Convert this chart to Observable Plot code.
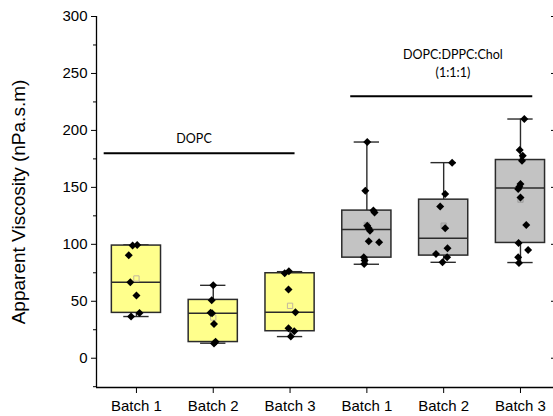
<!DOCTYPE html>
<html>
<head>
<meta charset="utf-8">
<script src="https://cdn.jsdelivr.net/npm/d3@7"></script>
<script src="https://cdn.jsdelivr.net/npm/@observablehq/plot@0.6"></script>
<style>
  html, body { margin: 0; padding: 0; background: #fff; }
  #chart svg { display: block; font-family: 'Liberation Sans', Arial, sans-serif; }
  #chart svg g[aria-label="x-axis tick label"],
  #chart svg g[aria-label="y-axis tick label"] { font-size: 15px; }
  #chart svg g.ytitle { font-size: 19px; }
  #chart svg g.grouplabel { font-size: 12.5px; font-family: Lato, 'Open Sans', sans-serif; }
</style>
</head>
<body>
<div id="chart"></div>
<script>
// ---- data ----
const categories = ["Batch 1", "Batch 2", "Batch 3", "Batch 1", "Batch 2", "Batch 3"];
const groupNames = ["DOPC", "DOPC:DPPC:Chol\n(1:1:1)"];
const groupLevels = [180, 230];
const groupOf = [0, 0, 0, 1, 1, 1];

const q1Values     = [39.8, 14.2, 23.7, 88.3, 90.1, 101.2];
const medianValues = [66.7, 39.5, 40.4, 112.9, 105.3, 149.5];
const q3Values     = [98.9, 51.2, 74.6, 129.6, 139.2, 174.0];
const minValues    = [36.6, 13.2, 19.0, 82.5, 84.2, 84.0];
const maxValues    = [99.5, 64.0, 76.0, 189.8, 171.7, 210.0];
const meanValues   = [70.0, 35.7, 46.0, 117.0, 116.4, 139.2];

const pointValues = [
  [99.5, 98.9, 90.4, 66.7, 55.0, 39.8, 36.6],
  [64.0, 51.0, 40.0, 39.5, 30.0, 14.4, 13.0],
  [76.3, 74.6, 60.3, 40.4, 26.3, 23.7, 19.0],
  [189.8, 147.1, 129.6, 128.0, 116.4, 114.0, 112.0, 102.6, 101.8, 88.6, 85.7, 82.8],
  [171.7, 144.2, 133.3, 114.0, 96.5, 91.6, 88.6, 84.2],
  [210.0, 182.8, 177.8, 173.4, 153.0, 150.6, 148.6, 141.2, 117.0, 101.2, 95.1, 88.6, 83.7]
];
// horizontal jitter of each point, in category units
const pointJitter = [
  [0.01, -0.05, -0.10, -0.08, 0.00, 0.04, -0.07],
  [0.00, -0.02, -0.035, -0.015, 0.01, 0.03, 0.01],
  [-0.015, -0.07, -0.02, 0.07, -0.02, 0.055, 0.01],
  [0.005, -0.02, 0.085, 0.10, 0.005, 0.025, 0.04, 0.025, 0.16, -0.04, -0.03, -0.035],
  [0.11, 0.02, -0.045, 0.02, 0.05, -0.10, 0.045, -0.015],
  [0.05, -0.01, 0.03, 0.02, 0.00, -0.015, -0.03, 0.00, 0.075, -0.025, 0.10, -0.03, -0.02]
];

const yMajorTicks = [0, 50, 100, 150, 200, 250, 300];
const yMinorTicks = [-25, 25, 75, 125, 175, 225, 275];

// ---- tables built from the arrays ----
const boxes = categories.map((c, i) => ({
  i, cat: c, group: groupOf[i],
  q1: q1Values[i], median: medianValues[i], q3: q3Values[i],
  min: minValues[i], max: maxValues[i], mean: meanValues[i]
}));
const points = pointValues.flatMap((vals, i) =>
  vals.map((v, k) => ({ i, x: i + pointJitter[i][k], v })));
const groupLines = [
  { name: groupNames[0], y: groupLevels[0], x1: -0.42, x2: 2.065, tx: 0.75, ty: 194 },
  { name: groupNames[1], y: groupLevels[1], x1: 2.79, x2: 5.16, tx: 4.12, ty: 260 }
];

const X0 = -0.52, X1 = 5.43, Y0 = -25.7, Y1 = 300;
const boxHalf = 0.32, capHalf = 0.165;
const fillFor = d => d.group === 0 ? "#ffff8c" : "#c3c3c3";
const meanFill = d => d.group === 0 ? "none" : "#b4b4b4";
const meanStroke = d => d.group === 0 ? "#c2b79f" : "#a0a0a0";
const dark = "#2b2b2b";

const chart = Plot.plot({
  width: 553,
  height: 416,
  marginLeft: 96,
  marginRight: 0,
  marginTop: 16,
  marginBottom: 29,
  style: { background: "#fff", color: "#000" },
  x: { domain: [X0, X1], axis: null },
  y: { domain: [Y0, Y1], axis: null },
  marks: [
    // axes
    Plot.axisY(yMinorTicks, { anchor: "left", tickSize: 3, text: null, stroke: "#000" }),
    Plot.axisY(yMajorTicks, { anchor: "left", tickSize: 5, tickPadding: 4, stroke: "#000", fill: "#000", label: null }),
    Plot.axisY(yMajorTicks, { anchor: "right", tickSize: 3, dx: -3, text: null, stroke: "#000", label: null }),
    Plot.axisX([0, 1, 2, 3, 4, 5], { anchor: "bottom", tickSize: 6, tickPadding: 7,
      tickFormat: i => categories[i], stroke: "#000", fill: "#000", label: null }),
    Plot.ruleX([X0], { y1: Y0, y2: Y1, stroke: "#000", strokeWidth: 1.3 }),
    Plot.ruleY([Y0], { x1: X0, x2: X1, stroke: "#000", strokeWidth: 1.3 }),
    Plot.text(["Apparent Viscosity (nPa.s.m)"], { frameAnchor: "left", textAnchor: "middle", rotate: -90,
      dx: -78, fill: "#000", className: "ytitle" }),

    // whiskers
    Plot.ruleX(boxes, { x: "i", y1: "q3", y2: "max", stroke: dark, strokeWidth: 1.4 }),
    Plot.ruleX(boxes, { x: "i", y1: "min", y2: "q1", stroke: dark, strokeWidth: 1.4 }),
    Plot.ruleY(boxes, { y: "max", x1: d => d.i - capHalf, x2: d => d.i + capHalf, stroke: dark, strokeWidth: 1.4 }),
    Plot.ruleY(boxes, { y: "min", x1: d => d.i - capHalf, x2: d => d.i + capHalf, stroke: dark, strokeWidth: 1.4 }),

    // boxes
    Plot.rect(boxes, { x1: d => d.i - boxHalf, x2: d => d.i + boxHalf, y1: "q1", y2: "q3",
      fill: fillFor, stroke: dark, strokeWidth: 1.5 }),
    Plot.ruleY(boxes, { y: "median", x1: d => d.i - boxHalf, x2: d => d.i + boxHalf, stroke: dark, strokeWidth: 1.5 }),

    // mean markers
    Plot.dot(boxes, { x: "i", y: "mean", symbol: "square", r: 3, fill: meanFill, stroke: meanStroke, strokeWidth: 1 }),

    // data points
    Plot.dot(points, { x: "x", y: "v", symbol: "diamond2", r: 3.6, fill: "#000", stroke: "none" }),

    // group annotations
    Plot.ruleY(groupLines, { y: "y", x1: "x1", x2: "x2", stroke: "#000", strokeWidth: 2 }),
    Plot.text(groupLines, { x: "tx", y: "ty", text: "name", lineHeight: 1.5, fill: "#000", className: "grouplabel" })
  ]
});

document.getElementById("chart").appendChild(chart);
</script>
</body>
</html>
